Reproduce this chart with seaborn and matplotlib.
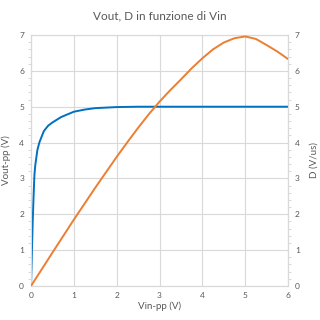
import matplotlib
matplotlib.use("Agg")
import matplotlib.pyplot as plt
import seaborn as sns
import pandas as pd
from matplotlib.ticker import MultipleLocator

sns.set_style("white")
plt.rcParams['font.family'] = ['Lato', 'DejaVu Sans']

# Vout-pp (left axis) vs Vin-pp
vin_blue = [0, 0.02, 0.04, 0.06, 0.08, 0.10, 0.15, 0.20, 0.30, 0.40, 0.50, 0.70,
            1.00, 1.25, 1.50, 2.00, 2.50, 3.00, 4.00, 5.00, 6.00]
vout = [0, 0.9, 1.8, 2.5, 3.1, 3.37, 3.8, 4.02, 4.32, 4.47, 4.56, 4.71,
        4.86, 4.92, 4.96, 4.99, 5.0, 5.0, 5.0, 5.0, 5.0]

# D (right axis) vs Vin-pp
vin_orange = [0, 0.5, 1.0, 1.5, 2.0, 2.25, 2.5, 2.75, 3.0, 3.25, 3.5, 3.75,
              4.0, 4.25, 4.5, 4.75, 5.0, 5.25, 5.5, 5.75, 6.0]
d_vals = [0, 0.93, 1.85, 2.74, 3.6, 4.01, 4.41, 4.79, 5.14, 5.46, 5.76, 6.07,
          6.35, 6.6, 6.79, 6.91, 6.96, 6.89, 6.72, 6.54, 6.33]

title = "Vout, D in funzione di Vin"
xlabel = "Vin-pp (V)"
ylabel_left = "Vout-pp (V)"
ylabel_right = "D (V/us)"

blue = "#0070C0"
orange = "#ED7D31"
grid_c = "#D9D9D9"
text_c = "#595959"

df_b = pd.DataFrame({"vin": vin_blue, "vout": vout})
df_o = pd.DataFrame({"vin": vin_orange, "d": d_vals})

fig = plt.figure(figsize=(3.2, 3.2), dpi=100)
ax = fig.add_axes([31/320, 1-286/320, (288-31)/320, (286-35)/320])
ax2 = ax.twinx()

sns.lineplot(data=df_b, x="vin", y="vout", ax=ax, color=blue, lw=1.4, zorder=3)
sns.lineplot(data=df_o, x="vin", y="d", ax=ax2, color=orange, lw=1.4, zorder=3)

for a in (ax, ax2):
    a.set_xlim(0, 6)
    a.set_ylim(0, 7)
    a.yaxis.set_major_locator(MultipleLocator(1))
    a.yaxis.set_minor_locator(MultipleLocator(0.2))
    for s in a.spines.values():
        s.set_color(grid_c)
        s.set_linewidth(0.8)

ax.xaxis.set_major_locator(MultipleLocator(1))
ax.grid(True, color=grid_c, lw=0.8)
ax.set_axisbelow(True)

ax.tick_params(axis='y', which='both', left=True, right=False, color=grid_c,
               labelsize=6, labelcolor=text_c, pad=5)
ax.tick_params(axis='y', which='major', length=0)
ax.tick_params(axis='y', which='minor', length=2.5, width=0.7)
ax2.tick_params(axis='y', which='both', right=True, left=False, color=grid_c,
                labelsize=6, labelcolor=text_c, pad=5)
ax2.tick_params(axis='y', which='major', length=0)
ax2.tick_params(axis='y', which='minor', length=2.5, width=0.7)
ax.tick_params(axis='x', length=0, labelsize=6, labelcolor=text_c, pad=4)

ax.set_xlabel(xlabel, fontsize=7, color=text_c, labelpad=2)
ax.set_ylabel(ylabel_left, fontsize=7, color=text_c, labelpad=6)
ax2.set_ylabel(ylabel_right, fontsize=7, color=text_c, labelpad=7)
ax.set_title(title, fontsize=8.5, color=text_c, pad=11)

fig.savefig("out.png", dpi=100, facecolor="white")
